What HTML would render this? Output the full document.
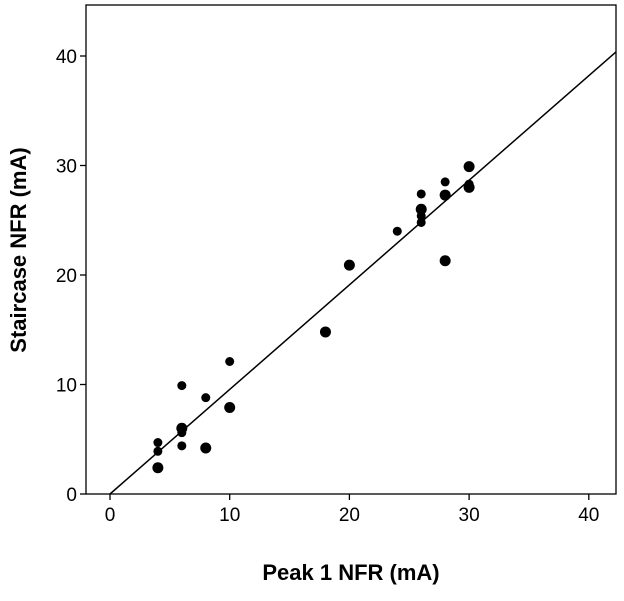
<!DOCTYPE html>
<html><head><meta charset="utf-8"><style>
body{margin:0;background:#fff;}
text{font-family:"Liberation Sans",Arial,sans-serif;}
</style></head><body>
<svg id="chart" width="624" height="596" xmlns="http://www.w3.org/2000/svg"></svg>
<script>
const xs=[4,4,4,6,6,6,6,8,8,10,10,18,20,24,26,26,26,26,28,28,28,30,30,30];
const ys=[4.7,3.9,2.4,9.9,6.0,5.6,4.4,8.8,4.2,12.1,7.9,14.8,20.9,24.0,27.4,26.0,25.4,24.8,28.5,27.3,21.3,29.9,28.3,28.0];
const big=[0,0,1,0,1,0,0,0,1,0,1,1,1,0,0,1,0,0,0,1,1,1,0,1];
const xTicks=[0,10,20,30,40];
const yTicks=[0,10,20,30,40];
const fitSlope=0.955, fitIntercept=0;
const svg=document.getElementById('chart');
const NS='http://www.w3.org/2000/svg';
const L=86,R=616,T=5,B=494;
const X=v=>110+v*11.97;
const Y=v=>494-v*10.95;
function mk(tag,attrs,parent){const e=document.createElementNS(NS,tag);for(const k in attrs)e.setAttribute(k,attrs[k]);(parent||svg).appendChild(e);return e;}
const frame=mk('rect',{x:L,y:T,width:R-L,height:B-T,fill:'none',stroke:'#000','stroke-width':1.3});


xTicks.forEach(t=>{
  const l=mk('line',{x1:X(t),x2:X(t),y1:B,y2:B+6,stroke:'#000','stroke-width':1.3});
  
  
  const tx=mk('text',{x:X(t),y:B+27,'text-anchor':'middle','font-size':19,fill:'#000'});
  tx.textContent=t;
  
  
});
yTicks.forEach(t=>{
  const l=mk('line',{x1:L-6,x2:L,y1:Y(t),y2:Y(t),stroke:'#000','stroke-width':1.3});
  
  
  const tx=mk('text',{x:L-9,y:Y(t)+7,'text-anchor':'end','font-size':19,fill:'#000'});
  tx.textContent=t;
  
  
});
const xEnd=(R-110)/11.97;
const fit=mk('line',{x1:X(0),y1:Y(fitIntercept),x2:X(xEnd),y2:Y(fitIntercept+fitSlope*xEnd),stroke:'#000','stroke-width':1.5});


xs.forEach((x,i)=>{
  const c=mk('circle',{cx:X(x),cy:Y(ys[i]),r:big[i]?5.5:4.5,fill:'#000'});
  
  
});
const xt=mk('text',{x:351,y:580,'text-anchor':'middle','font-size':22,'font-weight':'bold'});
xt.textContent='Peak 1 NFR (mA)';


const yt=mk('text',{x:0,y:0,'text-anchor':'middle','font-size':22,'font-weight':'bold',transform:'translate(26,250) rotate(-90)'});
yt.textContent='Staircase NFR (mA)';


</script>
</body></html>
